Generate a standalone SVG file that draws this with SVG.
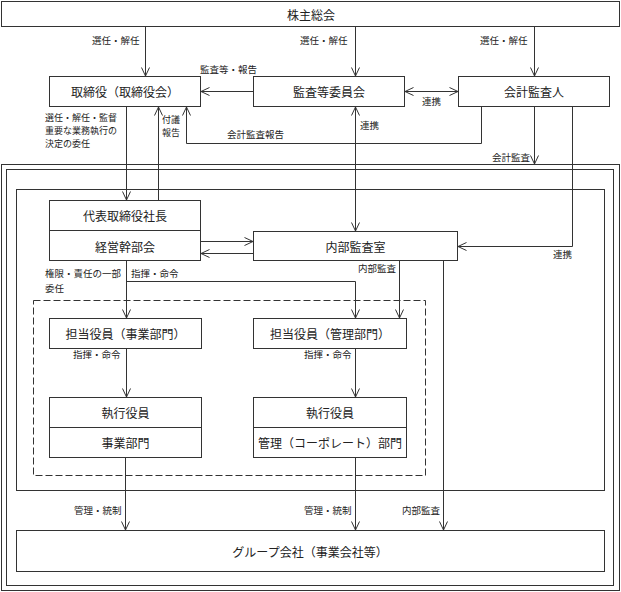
<svg xmlns="http://www.w3.org/2000/svg" width="621" height="592" viewBox="0 0 621 592">
<style>
.box{fill:#fff;stroke:#333;stroke-width:1}
.frame{fill:none;stroke:#333;stroke-width:1}
.dash{fill:none;stroke:#333;stroke-width:1;stroke-dasharray:7,3}
.t{font-family:"Noto Sans CJK JP","Noto Sans CJK SC",sans-serif;font-size:12px;fill:#222;text-anchor:middle;dominant-baseline:central}
.s{font-family:"Noto Sans CJK JP","Noto Sans CJK SC",sans-serif;font-size:9.5px;fill:#222;dominant-baseline:central}
.s2{font-family:"Noto Sans CJK JP","Noto Sans CJK SC",sans-serif;font-size:9px;fill:#222;dominant-baseline:central}
.c{fill:none;stroke:#333;stroke-width:1}
.a{marker-end:url(#ah)}
.b{marker-start:url(#as);marker-end:url(#ah)}
</style>
<defs>
<marker id="ah" viewBox="0 0 10 10" refX="9.5" refY="5" markerWidth="10" markerHeight="10" markerUnits="userSpaceOnUse" orient="auto">
<path d="M1,1 L9.5,5 L1,9" fill="none" stroke="#333" stroke-width="1"/>
</marker>
<marker id="as" viewBox="0 0 10 10" refX="0.5" refY="5" markerWidth="10" markerHeight="10" markerUnits="userSpaceOnUse" orient="auto">
<path d="M9,1 L0.5,5 L9,9" fill="none" stroke="#333" stroke-width="1"/>
</marker>
</defs>
<rect width="621" height="592" fill="#fff"/>

<g id="frames">
<rect class="frame" x="1.5" y="164.5" width="618" height="426"/>
<rect class="frame" x="6.5" y="169.5" width="607" height="416"/>
<rect class="frame" x="16.5" y="189.5" width="588" height="301"/>
<rect class="dash" x="33.5" y="300.5" width="392" height="175"/>
</g>

<g id="connectors">
<path class="c a" d="M145.5,26 V76"/>
<path class="c a" d="M355.5,26 V76"/>
<path class="c a" d="M534.5,26 V76"/>
<path class="c a" d="M253,91.5 H201"/>
<path class="c b" d="M405,91.5 H458"/>
<path class="c a" d="M481.5,107 V143.5 H186.5 V107"/>
<path class="c a" d="M534.5,107 V164"/>
<path class="c a" d="M572.5,107 V246.5 H458"/>
<path class="c a" d="M126.5,107 V200"/>
<path class="c a" d="M158.5,200 V107"/>
<path class="c b" d="M355.5,107 V231"/>
<path class="c a" d="M201,241.5 H253"/>
<path class="c a" d="M253,253.5 H201"/>
<path class="c a" d="M126.5,261 V318"/>
<path class="c a" d="M126.5,281.5 H355.5 V318"/>
<path class="c a" d="M399.5,261 V318"/>
<path class="c a" d="M443.5,261 V530"/>
<path class="c a" d="M126.5,348 V397"/>
<path class="c a" d="M355.5,348 V397"/>
<path class="c a" d="M125.5,457 V530"/>
<path class="c a" d="M355.5,457 V530"/>
</g>

<g id="labels">
<text class="s" x="92" y="40">選任・解任</text>
<text class="s" x="300" y="40">選任・解任</text>
<text class="s" x="480" y="40">選任・解任</text>
<text class="s" x="200" y="69">監査等・報告</text>
<text class="s" x="422" y="101">連携</text>
<text class="s2" x="45" y="117">選任・解任・監督</text>
<text class="s2" x="45" y="130">重要な業務執行の</text>
<text class="s2" x="45" y="143">決定の委任</text>
<text class="s2" x="162" y="119.5">付議</text>
<text class="s2" x="162" y="132.5">報告</text>
<text class="s" x="227" y="134">会計監査報告</text>
<text class="s" x="360" y="125">連携</text>
<text class="s" x="492" y="157">会計監査</text>
<text class="s" x="553" y="254">連携</text>
<text class="s" x="45" y="273">権限・責任の一部</text>
<text class="s" x="45" y="288">委任</text>
<text class="s" x="131" y="273">指揮・命令</text>
<text class="s" x="358" y="268">内部監査</text>
<text class="s" x="73" y="354">指揮・命令</text>
<text class="s" x="304" y="354">指揮・命令</text>
<text class="s" x="74" y="510">管理・統制</text>
<text class="s" x="304" y="510">管理・統制</text>
<text class="s" x="402" y="510">内部監査</text>
</g>

<g id="n-shareholders">
<rect class="box" x="1.5" y="1.5" width="618" height="25"/>
<text class="t" x="311" y="14">株主総会</text>
</g>
<g id="n-board">
<rect class="box" x="49.5" y="76.5" width="151" height="30"/>
<text class="t" x="125" y="91.5">取締役（取締役会）</text>
</g>
<g id="n-auditcommittee">
<rect class="box" x="253.5" y="76.5" width="151" height="30"/>
<text class="t" x="329" y="91.5">監査等委員会</text>
</g>
<g id="n-accountant">
<rect class="box" x="458.5" y="76.5" width="151" height="30"/>
<text class="t" x="534" y="91.5">会計監査人</text>
</g>
<g id="n-president">
<rect class="box" x="49.5" y="200.5" width="151" height="60"/>
<line class="c" x1="49.5" y1="230.5" x2="200.5" y2="230.5"/>
<text class="t" x="125" y="215.5">代表取締役社長</text>
<text class="t" x="125" y="246">経営幹部会</text>
</g>
<g id="n-internalaudit">
<rect class="box" x="253.5" y="231.5" width="204" height="29"/>
<text class="t" x="355.5" y="246">内部監査室</text>
</g>
<g id="n-officer-business">
<rect class="box" x="49.5" y="318.5" width="152" height="30"/>
<text class="t" x="125.5" y="333.5">担当役員（事業部門）</text>
</g>
<g id="n-officer-admin">
<rect class="box" x="253.5" y="318.5" width="153" height="30"/>
<text class="t" x="330" y="333.5">担当役員（管理部門）</text>
</g>
<g id="n-exec-business">
<rect class="box" x="49.5" y="397.5" width="152" height="60"/>
<line class="c" x1="49.5" y1="427.5" x2="201.5" y2="427.5"/>
<text class="t" x="125.5" y="412.5">執行役員</text>
<text class="t" x="125.5" y="442.5">事業部門</text>
</g>
<g id="n-exec-admin">
<rect class="box" x="253.5" y="397.5" width="153" height="60"/>
<line class="c" x1="253.5" y1="427.5" x2="406.5" y2="427.5"/>
<text class="t" x="330" y="412.5">執行役員</text>
<text class="t" x="330" y="442.5">管理（コーポレート）部門</text>
</g>
<g id="n-group">
<rect class="box" x="16.5" y="530.5" width="588" height="41"/>
<text class="t" x="310" y="551">グループ会社（事業会社等）</text>
</g>
</svg>
